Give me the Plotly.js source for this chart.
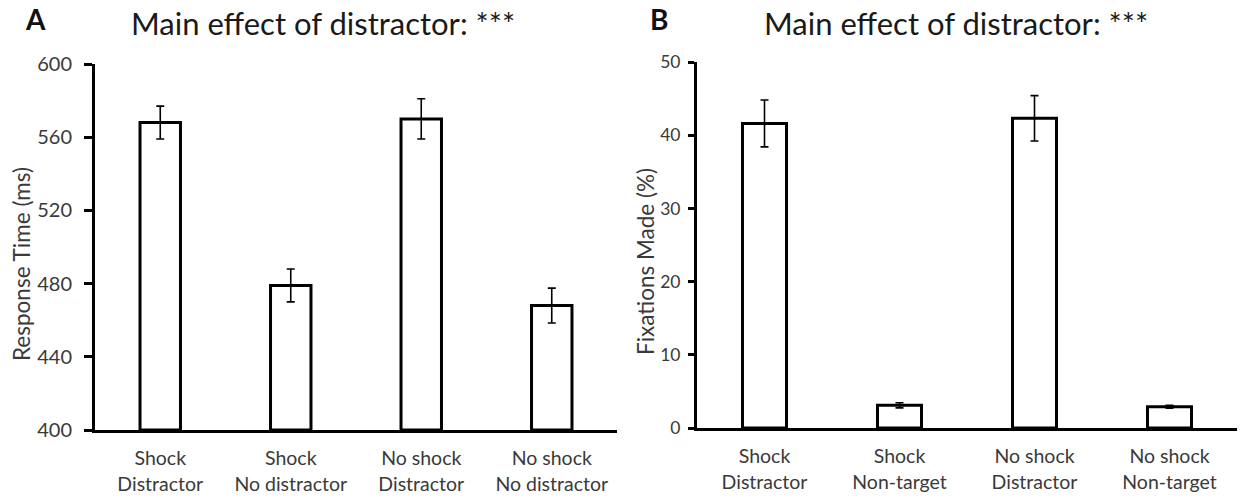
<!DOCTYPE html>
<html>
<head>
<meta charset="utf-8">
<script src="https://cdn.plot.ly/plotly-3.0.1.min.js"></script>
<style>html,body{margin:0;padding:0;background:#fff;}#chart{width:1242px;height:498px;}</style>
</head>
<body>
<div id="chart"></div>
<script>
// Panel A: response time
const catsA = ["Shock<br>Distractor", "Shock<br>No distractor", "No shock<br>Distractor", "No shock<br>No distractor"];
const rtMeans = [568, 479, 570, 468];
const rtErrors = [9, 9, 11, 9.5];
const rtTicks = [400, 440, 480, 520, 560, 600];

// Panel B: fixations made
const catsB = ["Shock<br>Distractor", "Shock<br>Non-target", "No shock<br>Distractor", "No shock<br>Non-target"];
const fixMeans = [41.6, 3.1, 42.3, 2.9];
const fixErrors = [3.2, 0.35, 3.1, 0.2];
const fixTicks = [0, 10, 20, 30, 40, 50];

const FONT = "Lato, 'Open Sans', sans-serif";
const tickFont = {family: FONT, size: 20, color: "#3a3a3a"};
const catFont = {family: FONT, size: 19.5, color: "#3a3a3a"};

const barStyle = {color: "#ffffff", line: {color: "#000000", width: 3}};
const errStyle = {type: "data", visible: true, thickness: 1.6, width: 4, color: "#000000"};

const AXIS_FLOOR = 400;
const traces = [
  {type: "bar", x: catsA, y: rtMeans.map(v => v - AXIS_FLOOR), base: AXIS_FLOOR,
   xaxis: "x", yaxis: "y", width: 0.31,
   marker: barStyle, error_y: Object.assign({array: rtErrors}, errStyle), hoverinfo: "none"},
  {type: "bar", x: catsB, y: fixMeans, xaxis: "x2", yaxis: "y2", width: 0.326,
   marker: barStyle, error_y: Object.assign({array: fixErrors}, errStyle), hoverinfo: "none"}
];

const W = 1242, H = 498;
const px = v => v / W, py = v => 1 - v / H;

const xCommon = {showline: true, linecolor: "#000", linewidth: 3, ticks: "", showgrid: false,
  zeroline: false, tickfont: catFont, type: "category", fixedrange: true, ticklabelstandoff: 9};
const yCommon = {showline: true, linecolor: "#000", linewidth: 3, ticks: "outside", ticklen: 8,
  tickwidth: 3, tickcolor: "#000", showgrid: false, zeroline: false, tickfont: tickFont,
  ticklabelstandoff: 8, fixedrange: true};

function note(text, x, y, size, extra) {
  return Object.assign({text: text, x: px(x), y: py(y), xref: "paper", yref: "paper",
    xanchor: "center", yanchor: "middle", showarrow: false,
    font: {family: FONT, size: size, color: "#1a1a1a"}}, extra || {});
}

const layout = {
  width: W, height: H,
  margin: {l: 0, r: 0, t: 0, b: 0},
  paper_bgcolor: "#fff", plot_bgcolor: "#fff",
  showlegend: false,
  xaxis: Object.assign({}, xCommon, {domain: [px(95), px(617)], anchor: "y"}),
  yaxis: Object.assign({}, yCommon, {domain: [py(430), py(64)], anchor: "x",
    range: [400, 600], tickvals: rtTicks, ticktext: rtTicks.map(String)}),
  xaxis2: Object.assign({}, xCommon, {domain: [px(697), px(1237)], anchor: "y2"}),
  yaxis2: Object.assign({}, yCommon, {domain: [py(428), py(62)], anchor: "x2",
    range: [0, 50], tickvals: fixTicks, ticktext: fixTicks.map(String),
    ticklen: 6, ticklabelstandoff: 4, tickfont: {family: FONT, size: 17.5, color: "#3a3a3a"}}),
  annotations: [
    note("<b>A</b>", 35, 19, 28, {font: {family: FONT, size: 28, color: "#111"}}),
    note("<b>B</b>", 659, 19, 28, {font: {family: FONT, size: 28, color: "#111"}}),
    note("Main effect of distractor: ***", 323, 23, 31),
    note("Main effect of distractor: ***", 956, 23, 31),
    note("Response Time (ms)", 21, 264, 22.5, {textangle: -90,
      font: {family: FONT, size: 22.5, color: "#3a3a3a"}}),
    note("Fixations Made (%)", 645, 262, 22.5, {textangle: -90,
      font: {family: FONT, size: 22.5, color: "#3a3a3a"}})
  ]
};

Plotly.newPlot("chart", traces, layout, {displayModeBar: false, staticPlot: true});
</script>
</body>
</html>
